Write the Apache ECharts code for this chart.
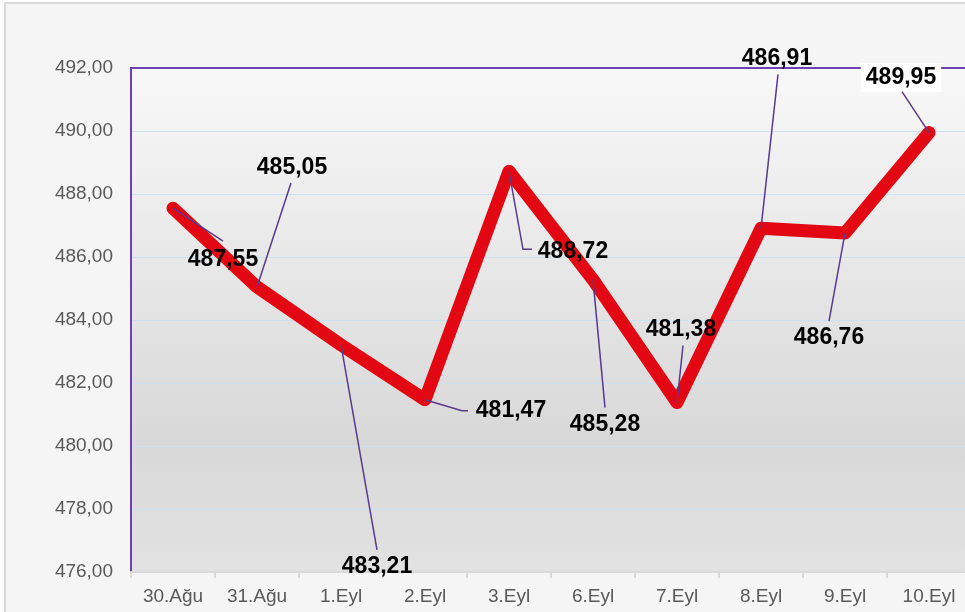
<!DOCTYPE html>
<html><head><meta charset="utf-8">
<script src="https://cdn.jsdelivr.net/npm/echarts@6/dist/echarts.min.js"></script>
<style>html,body{margin:0;padding:0;background:#fff}#c{width:965px;height:612px}</style>
</head><body><div id="c"></div>
<script>
const categories = ['30.Ağu','31.Ağu','1.Eyl','2.Eyl','3.Eyl','6.Eyl','7.Eyl','8.Eyl','9.Eyl','10.Eyl'];
const values = [487.55, 485.05, 483.21, 481.47, 488.72, 485.28, 481.38, 486.91, 486.76, 489.95];
const yMin = 476, yMax = 492, yInterval = 2;

// label placement styling (pixel offsets from each point)
const labelOffsets = [[50,51],[35,-119],[36,222],[86,11],[64,80],[12,145],[4,-73],[16,-170],[-16,105],[-28,-55]];
const leaderPaths = [[[50,33]],[[34,-104]],[[36,205]],[[37,11],[43,11]],[[14,78],[23,78]],[[12,128]],[[6,-57]],[[17,-154]],[[-16,88]],[[-27,-41]]];

const fmt = v => v.toFixed(2).replace('.', ',');
const FONT = '"Liberation Sans", Arial, sans-serif';

const chart = echarts.init(document.getElementById('c'), null, {renderer: 'canvas'});
const bgRect = {
  id: 'bg', type: 'rect', z: -100, silent: true,
  shape: {x: 5, y: 3, width: 1000, height: 700},
  style: {fill: '#f5f5f5', stroke: '#d9d9d9', lineWidth: 2}
};
chart.setOption({
  animation: false,
  backgroundColor: '#ffffff',
  graphic: [bgRect],
  grid: {
    left: 131, top: 68, width: 840, height: 504, show: true, borderWidth: 0,
    outerBoundsMode: 'none', containLabel: false,
    backgroundColor: new echarts.graphic.LinearGradient(0, 0, 0, 1, [
      {offset: 0, color: '#f8f8f8'},
      {offset: 0.75, color: '#d8d8d8'},
      {offset: 1, color: '#e2e2e2'}
    ])
  },
  xAxis: [{
    type: 'category', data: categories, boundaryGap: true,
    axisLine: {lineStyle: {color: '#d9d9d9', width: 2}},
    axisTick: {show: true, length: 6, lineStyle: {color: '#d9d9d9', width: 2}},
    axisLabel: {color: '#595959', fontSize: 19, fontFamily: FONT, margin: 15}
  }, {
    type: 'category', position: 'top', data: categories, boundaryGap: true,
    axisLine: {lineStyle: {color: '#7040b0', width: 2}},
    axisTick: {show: false}, axisLabel: {show: false}
  }],
  yAxis: {
    type: 'value', min: yMin, max: yMax, interval: yInterval,
    axisLine: {show: true, lineStyle: {color: '#7040b0', width: 2}},
    axisTick: {show: false},
    splitLine: {lineStyle: {color: '#cde0f2', width: 1}},
    axisLabel: {formatter: v => fmt(v), color: '#595959', fontSize: 19, fontFamily: FONT, margin: 18}
  },
  series: [{
    type: 'line', z: 3,
    data: values.map((v, i) => i === values.length - 1
      ? {value: v, label: {backgroundColor: '#ffffff', padding: [3, 5]}}
      : v),
    symbol: 'circle', symbolSize: 2, showSymbol: true,
    itemStyle: {color: '#e30613'},
    lineStyle: {color: '#e30613', width: 13, cap: 'round', join: 'round'},
    label: {
      show: true, position: 'inside', formatter: p => fmt(p.value),
      fontSize: 23, fontWeight: 'bold', color: '#000', fontFamily: FONT
    },
    labelLayout: function (p) {
      const off = labelOffsets[p.dataIndex];
      return {dx: off[0], dy: off[1]};
    }
  }]
});

// leader lines from each data point (pixel position from the chart's own scales)
const leaders = values.map((v, i) => {
  const p = chart.convertToPixel({seriesIndex: 0}, [i, v]);
  const pts = [p].concat(leaderPaths[i].map(q => [p[0] + q[0], p[1] + q[1]]));
  return {
    id: 'leader' + i, type: 'polyline', z: 10, silent: true,
    shape: {points: pts},
    style: {stroke: '#5a3a8a', lineWidth: 1.5, fill: null}
  };
});
chart.setOption({graphic: [bgRect].concat(leaders)});
</script></body></html>
